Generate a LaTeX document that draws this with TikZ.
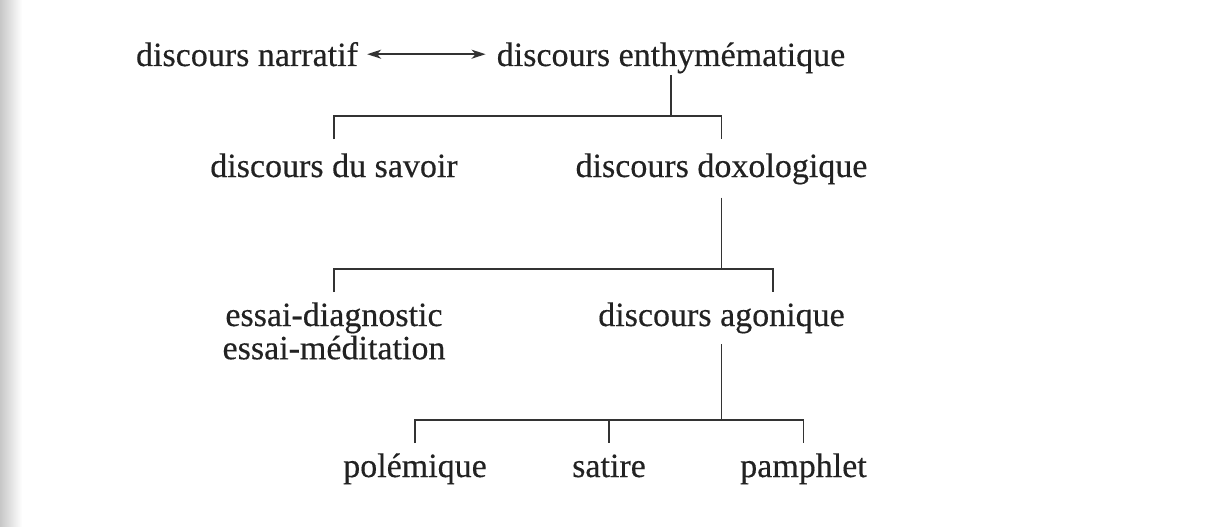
\documentclass[tikz,border=0pt]{standalone}
\usepackage{fontspec}
\setmainfont{Liberation Serif}[FakeBold=0.35]
\usetikzlibrary{arrows.meta,calc}
\definecolor{ink}{HTML}{222222}
\definecolor{linecol}{HTML}{333333}
\begin{document}
\begin{tikzpicture}[x=1pt,y=-1pt,
  lab/.style={font=\fontsize{34}{32}\selectfont, text=ink, inner sep=0pt, anchor=base},
  ln/.style={draw=linecol, line width=1.9pt},
  dbl/.style={draw=linecol, line width=1.5pt, {Stealth[length=14pt,width=9pt,inset=4pt]}-{Stealth[length=14pt,width=9pt,inset=4pt]}}]
\useasboundingbox (0,0) rectangle (1218,527);
\fill[white] (0,0) rectangle (1218,527);
\shade[left color=black!22, right color=white] (0,0) rectangle (22,527);

% nodes
\node[lab] (narr) at (247,66) {discours narratif};
\node[lab] (enth) at (671,66) {discours enthymématique};
\node[lab] (sav)  at (334,177) {discours du savoir};
\node[lab] (doxo) at (721.5,177) {discours doxologique};
\node[lab] (essai) at (334,326) {\begin{tabular}[t]{@{}c@{}}essai-diagnostic\\essai-méditation\end{tabular}};
\node[lab] (agon) at (721.5,326) {discours agonique};
\node[lab] (pol) at (415,477) {polémique};
\node[lab] (sat) at (609,477) {satire};
\node[lab] (pam) at (803.5,477) {pamphlet};

% junction coordinates
\coordinate (j1) at (enth.south |- 0,116);
\coordinate (j2) at (doxo.south |- 0,269);
\coordinate (j3) at (agon.south |- 0,420);
\coordinate (t2) at ([xshift=51.5pt]agon.north |- 0,269);

% double arrow
\draw[dbl, shorten <=9pt, shorten >=11pt] (narr.east) -- (narr.east -| enth.west);

% level 1
\draw[ln, shorten <=1.5pt] (enth.south) -- (j1);
\draw[ln] (sav.north |- 0,139) -- (sav.north |- j1) -- (doxo.north |- j1) -- (doxo.north |- 0,139);

% level 2
\draw[ln, shorten <=13pt] (doxo.south) -- (j2);
\draw[ln] (essai.north |- 0,292) -- (essai.north |- j2) -- (t2) -- (t2 |- 0,292);

% level 3
\draw[ln, shorten <=10.5pt] (agon.south) -- (j3);
\draw[ln] (pol.north |- 0,443) -- (pol.north |- j3) -- (pam.north |- j3) -- (pam.north |- 0,443);
\draw[ln] (sat.north |- j3) -- (sat.north |- 0,443);
\end{tikzpicture}
\end{document}
